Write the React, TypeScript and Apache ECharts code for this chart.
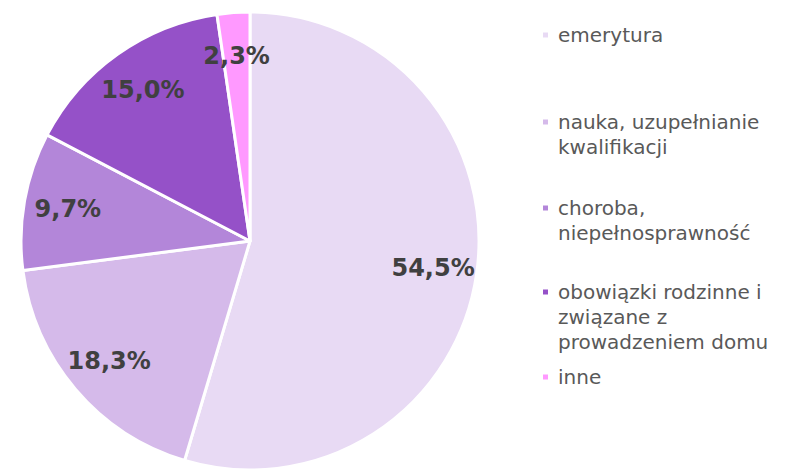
import React, { useEffect, useRef } from "react";
import * as echarts from "echarts";

const categories = [
  "emerytura",
  "nauka, uzupełnianie\nkwalifikacji",
  "choroba,\nniepełnosprawność",
  "obowiązki rodzinne i\nzwiązane z\nprowadzeniem domu",
  "inne",
];
const values = [54.5, 18.3, 9.7, 15.0, 2.3];
const colors = ["#E8DAF4", "#D5BAEA", "#B386D9", "#9551C8", "#FF99FF"];
const legendCenters = [35, 122, 208, 292, 377];

const LINE = 25;
const FONT = "'DejaVu Sans', sans-serif";

export default function App() {
  const ref = useRef<HTMLDivElement>(null);
  useEffect(() => {
    document.body.style.margin = "0";
    const chart = echarts.init(ref.current!, null, { renderer: "svg" });
    const data = categories.map((name, i) => ({
      name,
      value: values[i],
      itemStyle: { color: colors[i] },
    }));
    const legends = categories.map((name, i) => {
      const n = name.split("\n").length;
      return {
        data: [name],
        left: 541,
        top: legendCenters[i] - ((2 * n - 1) * LINE) / 2,
        padding: 0,
        orient: "vertical",
        icon: "rect",
        itemWidth: 7,
        itemHeight: 7,
        itemGap: 0,
        selectedMode: false,
        // leading blank lines keep the marker beside the first line
        formatter: (nm: string) => "\n".repeat(nm.split("\n").length - 1) + nm,
        textStyle: {
          fontFamily: FONT,
          fontSize: 20,
          color: "#595959",
          lineHeight: LINE,
          padding: [0, 0, 0, 4],
        },
      };
    });
    chart.setOption({
      animation: false,
      legend: legends,
      series: [
        {
          type: "pie",
          center: [250, 241],
          radius: [0, 229],
          startAngle: 90,
          clockwise: true,
          data,
          label: { show: false },
          labelLine: { show: false },
          itemStyle: { borderColor: "#ffffff", borderWidth: 3 },
          silent: true,
        },
        {
          type: "pie",
          center: [250, 241],
          radius: [0, 364],
          startAngle: 90,
          clockwise: true,
          data: categories.map((name, i) => ({ name, value: values[i] })),
          itemStyle: { color: "transparent", borderWidth: 0 },
          silent: true,
          legendHoverLink: false,
          label: {
            show: true,
            position: "inside",
            formatter: (p: any) => p.value.toFixed(1).replace(".", ",") + "%",
            fontFamily: FONT,
            fontWeight: "bold",
            fontSize: 24,
            color: "#404040",
          },
          labelLine: { show: false },
        },
      ],
    });
    return () => chart.dispose();
  }, []);
  return <div ref={ref} style={{ width: 792, height: 469 }} />;
}
